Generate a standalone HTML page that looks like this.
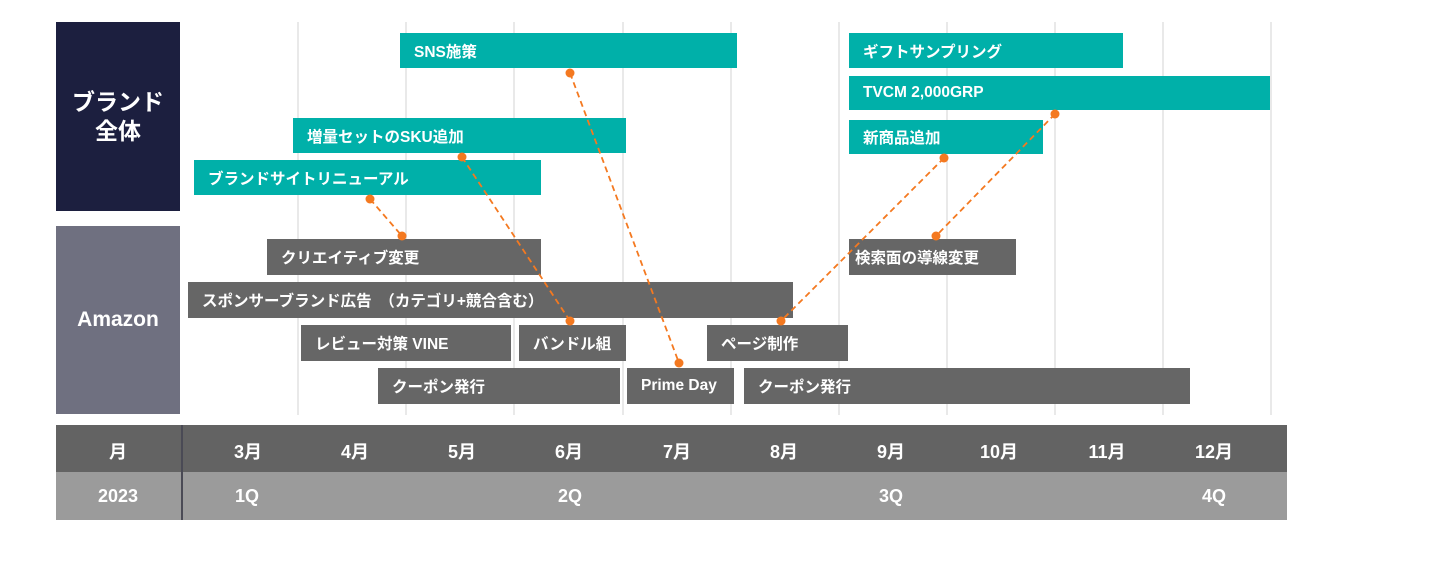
<!DOCTYPE html>
<html><head><meta charset="utf-8"><style>
body{margin:0;width:1440px;height:571px;background:#fff;position:relative;overflow:hidden;font-family:"Liberation Sans","Noto Sans CJK JP",sans-serif;font-weight:bold;}
.b{position:absolute;color:#fff;font-size:15.5px;display:flex;align-items:center;padding-left:14px;box-sizing:border-box;white-space:nowrap;}
.t{background:#00b0a9;}
.g{background:#666;}
.gl{position:absolute;top:22px;height:393px;width:2px;background:#e9e9e9;}
.lab{position:absolute;color:#fff;display:flex;align-items:center;justify-content:center;text-align:center;}
.m{position:absolute;color:#fff;font-size:18px;transform:translateX(-50%);}
</style></head><body>
<div class="gl" style="left:297px"></div><div class="gl" style="left:405px"></div><div class="gl" style="left:513px"></div><div class="gl" style="left:622px"></div><div class="gl" style="left:730px"></div><div class="gl" style="left:838px"></div><div class="gl" style="left:946px"></div><div class="gl" style="left:1054px"></div><div class="gl" style="left:1162px"></div><div class="gl" style="left:1270px"></div>

<div class="lab" style="left:56px;top:22px;width:124px;height:189px;background:#1c1f3f;font-size:23px;line-height:29px;">ブランド<br>全体</div>
<div class="lab" style="left:56px;top:226px;width:124px;height:188px;background:#6f7080;font-size:21px;">Amazon</div>

<div class="b t" style="left:400px;top:33px;width:337px;height:35px;">SNS施策</div>
<div class="b t" style="left:849px;top:33px;width:274px;height:35px;">ギフトサンプリング</div>
<div class="b t" style="left:849px;top:76px;width:421px;height:34px;">TVCM 2,000GRP</div>
<div class="b t" style="left:849px;top:120px;width:194px;height:34px;">新商品追加</div>
<div class="b t" style="left:293px;top:118px;width:333px;height:35px;">増量セットのSKU追加</div>
<div class="b t" style="left:194px;top:160px;width:347px;height:35px;">ブランドサイトリニューアル</div>

<div class="b g" style="left:267px;top:239px;width:274px;height:36px;">クリエイティブ変更</div>
<div class="b g" style="left:849px;top:239px;width:167px;height:36px;padding-left:6px">検索面の導線変更</div>
<div class="b g" style="left:188px;top:282px;width:605px;height:36px;">スポンサーブランド広告　（カテゴリ+競合含む）</div>
<div class="b g" style="left:301px;top:325px;width:210px;height:36px;">レビュー対策 VINE</div>
<div class="b g" style="left:519px;top:325px;width:107px;height:36px;">バンドル組</div>
<div class="b g" style="left:707px;top:325px;width:141px;height:36px;">ページ制作</div>
<div class="b g" style="left:378px;top:368px;width:242px;height:36px;">クーポン発行</div>
<div class="b g" style="left:627px;top:368px;width:107px;height:36px;">Prime Day</div>
<div class="b g" style="left:744px;top:368px;width:446px;height:36px;">クーポン発行</div>

<svg style="position:absolute;left:0;top:0" width="1440" height="571">
<g stroke="#f47920" stroke-width="1.8" stroke-dasharray="6,4" fill="none">
<line x1="370" y1="199" x2="402" y2="236"/>
<line x1="462" y1="157" x2="570" y2="321"/>
<line x1="570" y1="73" x2="679" y2="363"/>
<line x1="944" y1="158" x2="781" y2="321"/>
<line x1="1055" y1="114" x2="936" y2="236"/>
</g>
<g fill="#f47920">
<circle cx="370" cy="199" r="4.5"/><circle cx="402" cy="236" r="4.5"/>
<circle cx="462" cy="157" r="4.5"/><circle cx="570" cy="321" r="4.5"/>
<circle cx="570" cy="73" r="4.5"/><circle cx="679" cy="363" r="4.5"/>
<circle cx="944" cy="158" r="4.5"/><circle cx="781" cy="321" r="4.5"/>
<circle cx="1055" cy="114" r="4.5"/><circle cx="936" cy="236" r="4.5"/>
</g>
</svg>

<div style="position:absolute;left:56px;top:425px;width:1231px;height:47px;background:#636363;"></div>
<div style="position:absolute;left:56px;top:472px;width:1231px;height:48px;background:#9b9b9b;"></div>
<div style="position:absolute;left:181px;top:425px;width:2px;height:95px;background:#4a4a55;"></div>
<div class="m" style="left:118px;top:438px">月</div>
<div class="m" style="left:248px;top:438px">3月</div>
<div class="m" style="left:355px;top:438px">4月</div>
<div class="m" style="left:462px;top:438px">5月</div>
<div class="m" style="left:569px;top:438px">6月</div>
<div class="m" style="left:677px;top:438px">7月</div>
<div class="m" style="left:784px;top:438px">8月</div>
<div class="m" style="left:891px;top:438px">9月</div>
<div class="m" style="left:999px;top:438px">10月</div>
<div class="m" style="left:1107px;top:438px">11月</div>
<div class="m" style="left:1214px;top:438px">12月</div>
<div class="m" style="left:118px;top:486px">2023</div>
<div class="m" style="left:247px;top:486px">1Q</div>
<div class="m" style="left:570px;top:486px">2Q</div>
<div class="m" style="left:891px;top:486px">3Q</div>
<div class="m" style="left:1214px;top:486px">4Q</div>
</body></html>
